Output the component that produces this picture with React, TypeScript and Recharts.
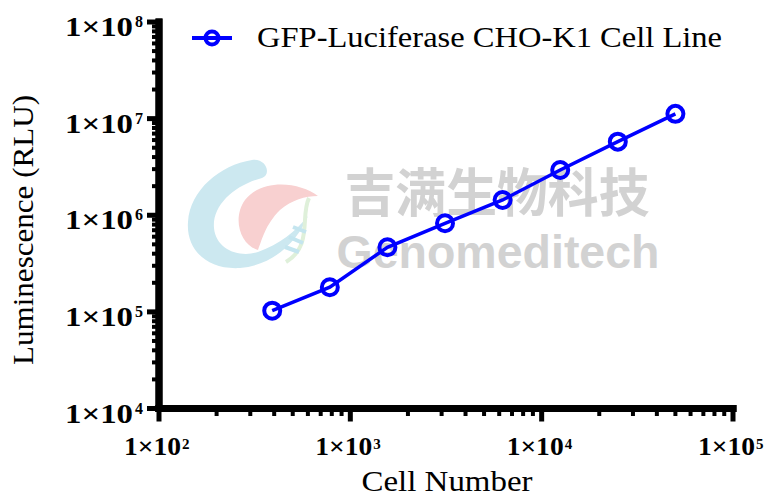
import React from 'react';
import { LineChart, Line, XAxis, YAxis, ReferenceLine } from 'recharts';

// two-fold dilution series of cells and measured luminescence
const cellNumbers = [390.625, 781.25, 1562.5, 3125, 6250, 12500, 25000, 50000];
const luminescence = [1.03e5, 1.8e5, 4.66e5, 8.26e5, 1.44e6, 2.94e6, 5.78e6, 1.12e7];
const seriesName = 'GFP-Luciferase CHO-K1 Cell Line';

const decades = (from: number, to: number) => {
    const out: number[] = [];
    for (let e = from; e < to; e++) {
        for (let m = 1; m < 10; m++) out.push(m * Math.pow(10, e));
    }
    out.push(Math.pow(10, to));
    return out;
};
const xTicks = decades(2, 5);
const yTicks = decades(4, 8);

const data = cellNumbers.map((c, i) => ({ cells: c, rlu: luminescence[i] }));

const BLUE = '#0000ff';
const SERIF = '"Liberation Serif", "Times New Roman", serif';

const isMajor = (v: number) => {
    const l = Math.log10(v);
    return Math.abs(l - Math.round(l)) < 1e-6;
};

const XTick = (props: any) => {
    const { x, y, payload } = props;
    const major = isMajor(payload.value);
    const e = Math.round(Math.log10(payload.value));
    return (
        <g>
            <line x1={x} x2={x} y1={y} y2={y + (major ? 13 : 7.5)} stroke="#000" strokeWidth={major ? 5 : 4} />
            {major && (
                <g fontFamily={SERIF} fontWeight="bold" fill="#000">
                    <text x={x - 35} y={y + 46.5} fontSize={25} textLength={57} lengthAdjust="spacingAndGlyphs">1×10</text>
                    <text x={x + 23} y={y + 40} fontSize={15}>{e}</text>
                </g>
            )}
        </g>
    );
};

const YTick = (props: any) => {
    const { x, y, payload } = props;
    const major = isMajor(payload.value);
    const e = Math.round(Math.log10(payload.value));
    return (
        <g>
            <line x1={x - (major ? 12 : 7)} x2={x} y1={y} y2={y} stroke="#000" strokeWidth={major ? 5 : 4} />
            {major && (
                <g fontFamily={SERIF} fontWeight="bold" fill="#000">
                    <text x={x - 94} y={y + 14} fontSize={28} textLength={68} lengthAdjust="spacingAndGlyphs">1×10</text>
                    <text x={x - 24} y={y + 5} fontSize={16}>{e}</text>
                </g>
            )}
        </g>
    );
};

const Watermark = () => (
    <svg width={776} height={500} style={{ position: 'absolute', left: 0, top: 0 }}>
        <path
            d="M 262 178 C 235 185, 212 205, 214 228 C 216 250, 240 258, 258 252 C 280 244, 295 232, 308 216 C 298 240, 275 265, 240 268 C 205 270, 186 248, 188 222 C 190 190, 220 165, 252 160 C 266 158, 272 174, 262 178 Z"
            fill="#cce8f0"
        />
        <path
            d="M 318 196 C 300 182, 262 178, 245 200 C 232 218, 240 245, 258 250 C 262 240, 265 225, 280 210 C 292 200, 305 196, 318 196 Z"
            fill="#f8d0d0"
        />
        <path d="M 309 198 C 300 216, 313 246, 286 262" stroke="#dff0da" strokeWidth={4} fill="none" />
        <g stroke="#c4e5ef" strokeWidth={4}>
            <line x1={293} y1={227} x2={306} y2={232} />
            <line x1={289} y1={237} x2={303} y2={243} />
            <line x1={285} y1={247} x2={299} y2={252} />
        </g>
        <text x={497} y={212} textAnchor="middle" fontFamily='"Noto Sans CJK SC", sans-serif' fontWeight="bold" fontSize={52} fill="#d2d2d2" textLength={305} lengthAdjust="spacingAndGlyphs">吉满生物科技</text>
        <text x={498} y={268} textAnchor="middle" fontFamily='"Liberation Sans", Arial, sans-serif' fontWeight="bold" fontSize={46} fill="#d2d2d2" textLength={323} lengthAdjust="spacingAndGlyphs">Genomeditech</text>
    </svg>
);

const LegendBox = () => (
    <svg width={776} height={70} style={{ position: 'absolute', left: 0, top: 0, pointerEvents: 'none' }}>
        <line x1={192} x2={232} y1={38} y2={38} stroke={BLUE} strokeWidth={4} />
        <circle cx={212} cy={38} r={6.5} stroke={BLUE} strokeWidth={4} fill="none" />
        <text x={257} y={47} fontFamily={SERIF} fontSize={30} fill="#000" textLength={465} lengthAdjust="spacingAndGlyphs">{seriesName}</text>
    </svg>
);

const XTitle = () => (
    <text x={447} y={491} textAnchor="middle" fontFamily={SERIF} fontSize={29} fill="#000" textLength={171} lengthAdjust="spacingAndGlyphs">Cell Number</text>
);

const YTitle = () => (
    <text x={33} y={230} transform="rotate(-90, 33, 230)" textAnchor="middle" fontFamily={SERIF} fontSize={30} fill="#000" textLength={270} lengthAdjust="spacingAndGlyphs">Luminescence (RLU)</text>
);

const axisStyle = { stroke: '#000', strokeWidth: 7, strokeLinecap: 'square' as const };

const App: React.FC = () => {
    return (
        <div style={{ position: 'relative', width: 776, height: 500, margin: -8, background: '#fff' }}>
            <Watermark />
            <div style={{ position: 'absolute', left: 0, top: 0 }}>
                <LineChart width={776} height={500} data={data} margin={{ top: 22, right: 43, bottom: 0, left: 0 }}>
                    <XAxis
                        dataKey="cells"
                        type="number"
                        scale="log"
                        domain={[100, 100000]}
                        ticks={xTicks}
                        interval={0}
                        height={91.5}
                        tickSize={0}
                        tickMargin={0}
                        tick={<XTick />}
                        axisLine={axisStyle}
                        label={<XTitle />}
                    />
                    <YAxis
                        dataKey="rlu"
                        type="number"
                        scale="log"
                        domain={[10000, 100000000]}
                        ticks={yTicks}
                        interval={0}
                        width={159}
                        tickSize={0}
                        tickMargin={0}
                        tick={<YTick />}
                        axisLine={axisStyle}
                        label={<YTitle />}
                    />
                    <ReferenceLine x={100} stroke="#000" strokeWidth={7} strokeLinecap="square" ifOverflow="visible" />
                    <ReferenceLine y={10000} stroke="#000" strokeWidth={7} strokeLinecap="square" ifOverflow="visible" />
                    <Line
                        type="linear"
                        dataKey="rlu"
                        name={seriesName}
                        stroke={BLUE}
                        strokeWidth={3.5}
                        dot={{ r: 8, stroke: BLUE, strokeWidth: 4, fill: 'none' }}
                        isAnimationActive={false}
                    />
                </LineChart>
            </div>
            <LegendBox />
        </div>
    );
};

export default App;
